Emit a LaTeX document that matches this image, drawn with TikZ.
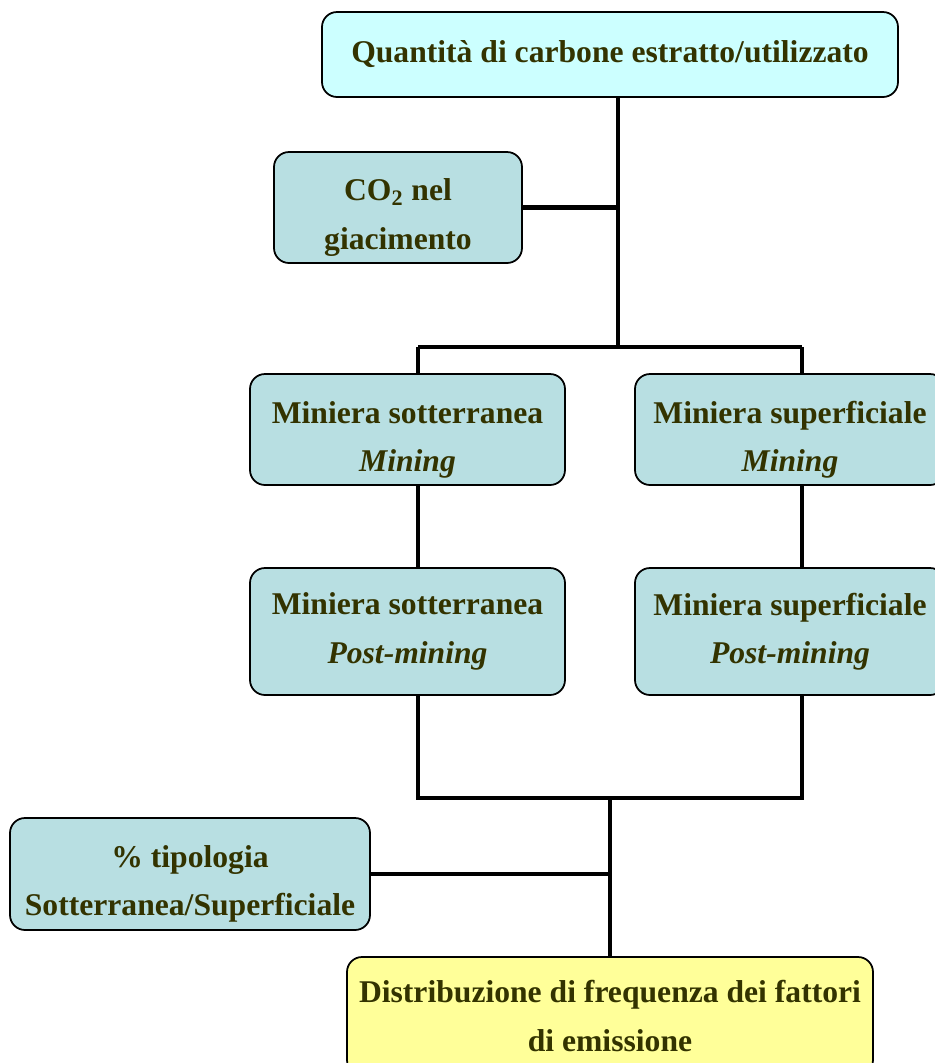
\documentclass[tikz,border=0pt]{standalone}
\usepackage{fontspec}
\setmainfont{Liberation Serif}
\definecolor{boxblue}{RGB}{184,223,226}
\definecolor{boxcyan}{RGB}{204,255,255}
\definecolor{boxyellow}{RGB}{255,255,153}
\definecolor{textolive}{RGB}{51,51,0}
\newcommand{\lowline}{\rule{0pt}{24pt}}
\tikzset{
    box/.style={draw, line width=1pt, rounded corners=0.3cm, fill=boxblue, text=textolive,
        align=center, font=\fontsize{18}{27.5}\selectfont\bfseries, inner sep=0pt},
    link/.style={line width=2.8pt}
}
\begin{document}
\begin{tikzpicture}
    \clip (0,0) rectangle (18.7,-21.26);
    \useasboundingbox (0,0) rectangle (18.7,-21.26);
    \node[box, fill=boxcyan, minimum width=11.52cm, minimum height=1.7cm] (top) at (12.2,-1.09) {\raisebox{3pt}{Quantità di carbone estratto/utilizzato}};
    \node[box, minimum width=4.96cm, minimum height=2.22cm] (co2) at (7.96,-4.15) {\lowline CO\textsubscript{2} nel\\giacimento};
    \node[box, minimum width=6.3cm, minimum height=2.22cm] (sotm) at (8.15,-8.59) {\lowline Miniera sotterranea\\\textit{Mining}};
    \node[box, minimum width=6.2cm, minimum height=2.22cm] (supm) at (15.8,-8.59) {\lowline Miniera superficiale\\\textit{Mining}};
    \node[box, minimum width=6.3cm, minimum height=2.54cm] (sotp) at (8.15,-12.63) {Miniera sotterranea\\\textit{Post-mining}};
    \node[box, minimum width=6.2cm, minimum height=2.54cm] (supp) at (15.8,-12.63) {Miniera superficiale\\\textit{Post-mining}};
    \node[box, minimum width=7.2cm, minimum height=2.24cm] (tipo) at (3.8,-17.48) {\lowline\% tipologia\\Sotterranea/Superficiale};
    \node[box, fill=boxyellow, minimum width=10.52cm, minimum height=2.36cm] (distr) at (12.2,-20.32) {Distribuzione di frequenza dei fattori\\di emissione};
    % junctions
    \coordinate (jt) at (12.36,-6.94);
    \coordinate (jl) at (8.36,-6.94);
    \coordinate (jr) at (16.04,-6.94);
    \coordinate (jb) at (12.2,-15.96);
    \draw[link] (top.south -| jt) -- (jt);
    \draw[link] (co2.east) -- (co2.east -| jt);
    \draw[link] (jl) -- (jr);
    \draw[link] (jl) -- (jl |- sotm.north);
    \draw[link] (jr) -- (jr |- supm.north);
    \draw[link] (jl |- sotm.south) -- (jl |- sotp.north);
    \draw[link] (jr |- supm.south) -- (jr |- supp.north);
    \draw[link] (jl |- sotp.south) -- (jl |- jb) -- (jr |- jb) -- (jr |- supp.south);
    \draw[link] (jb) -- (distr.north);
    \draw[link] (tipo.east) -- (tipo.east -| jb);
\end{tikzpicture}
\end{document}
